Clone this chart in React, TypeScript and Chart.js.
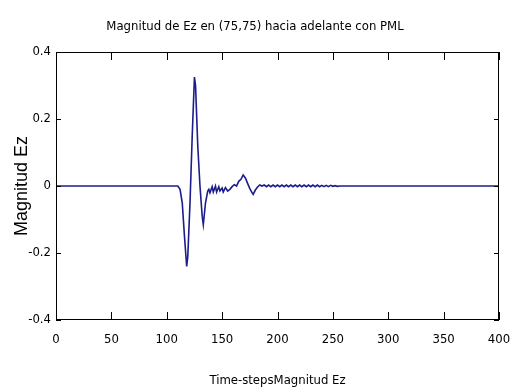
import React, { useEffect, useRef } from "react";
import { Chart, registerables } from "chart.js";

Chart.register(...registerables);

const chartTitle = "Magnitud de Ez en (75,75) hacia adelante con PML";
const xTitle = "Time-stepsMagnitud Ez";
const yTitle = "Magnitud Ez";

const timeSteps = [
  0, 110, 112, 114, 116, 118, 119, 121, 123, 125, 126, 128, 130, 132, 133, 135,
  137, 138, 139, 141, 142, 144, 145, 147, 148, 150, 151, 153, 155, 157, 159, 161,
  163, 165, 167, 169, 171, 173, 175, 177, 178, 180, 182, 184, 186,
  188, 190, 192, 194, 196, 198, 200, 202, 204, 206, 208, 210, 212, 214, 216, 218,
  220, 222, 224, 226, 228, 230, 232, 234, 236, 238, 240, 242, 244, 246, 248, 250,
  252, 254, 256, 400,
];

const magnitudEz = [
  0, 0, -0.01, -0.05, -0.15, -0.24, -0.21, -0.05, 0.15, 0.325, 0.3, 0.12, 0.0, -0.09, -0.115, -0.05,
  -0.015, -0.01, -0.02, -0.002, -0.018, 0.0, -0.018, -0.002, -0.015, -0.006, -0.018, -0.005, -0.015, -0.01, -0.002, 0.004,
  0.0, 0.014, 0.02, 0.033, 0.024, 0.008, -0.008, -0.02, -0.025, -0.012, -0.003, 0.003, 0.0,
  0.003, -0.002, 0.003, -0.002, 0.003, -0.002, 0.003, -0.002, 0.003, -0.002, 0.003, -0.002, 0.003, -0.002, 0.003,
  -0.002, 0.003, -0.002, 0.003, -0.002, 0.003, -0.002, 0.003, -0.002, 0.003, -0.002, 0.002, -0.002, 0.002, -0.002, 0.002,
  -0.001, 0.001, -0.001, 0, 0,
];

const xTicks = [0, 50, 100, 150, 200, 250, 300, 350, 400];
const yTicks = [-0.4, -0.2, 0, 0.2, 0.4];

const narrow = "'DejaVu Sans Condensed', 'Liberation Sans', sans-serif";

const boxPlugin = {
  id: "matlabBox",
  afterDraw(chart: any) {
    const { ctx, chartArea, scales } = chart;
    const { left, right, top, bottom } = chartArea;
    ctx.save();
    ctx.strokeStyle = "#000";
    ctx.lineWidth = 1;
    ctx.strokeRect(left + 0.5, top + 0.5, right - left - 1, bottom - top - 1);
    ctx.beginPath();
    for (const v of xTicks) {
      const x = Math.round(scales.x.getPixelForValue(v)) + 0.5;
      ctx.moveTo(x, bottom);
      ctx.lineTo(x, bottom - 8);
      ctx.moveTo(x, top);
      ctx.lineTo(x, top + 8);
    }
    for (const v of yTicks) {
      const y = Math.round(scales.y.getPixelForValue(v)) + 0.5;
      ctx.moveTo(left, y);
      ctx.lineTo(left + 5, y);
      ctx.moveTo(right, y);
      ctx.lineTo(right - 5, y);
    }
    ctx.stroke();
    ctx.restore();
  },
};

export default function App() {
  const ref = useRef<HTMLCanvasElement | null>(null);
  useEffect(() => {
    document.body.style.margin = "0";
    const canvas = ref.current;
    if (!canvas) return;
    const points = timeSteps.map((t, i) => ({ x: t, y: magnitudEz[i] }));
    const chart = new Chart(canvas, {
      type: "line",
      data: {
        datasets: [
          {
            data: points,
            borderColor: "#1c1c8c",
            borderWidth: 1.6,
            pointRadius: 0,
            tension: 0,
            fill: false,
          },
        ],
      },
      options: {
        animation: false,
        responsive: false,
        maintainAspectRatio: false,
        layout: { padding: { left: 0, right: 0, top: 0, bottom: 0 } },
        plugins: {
          legend: { display: false },
          tooltip: { enabled: false },
          title: {
            display: true,
            text: chartTitle,
            color: "#000",
            font: { family: narrow, size: 13, weight: "normal", lineHeight: 1.2 },
            padding: { top: 19, bottom: 17.4 },
          },
        },
        scales: {
          x: {
            type: "linear",
            min: 0,
            max: 400,
            afterFit: (s: any) => {
              s.height = 71;
              s.paddingLeft = 0;
              s.paddingRight = 11;
            },
            afterBuildTicks: (s: any) => {
              s.ticks = xTicks.map((v) => ({ value: v }));
            },
            grid: { display: false, drawTicks: false },
            border: { display: false },
            ticks: {
              color: "#000",
              padding: 12,
              maxRotation: 0,
              autoSkip: false,
              font: { family: narrow, size: 13 },
            },
            title: {
              display: true,
              text: xTitle,
              color: "#000",
              font: { family: narrow, size: 13, lineHeight: 1.2 },
              padding: { top: 0, bottom: 3 },
            },
          },
          y: {
            type: "linear",
            min: -0.4,
            max: 0.4,
            afterFit: (s: any) => {
              s.width = 56;
            },
            afterBuildTicks: (s: any) => {
              s.ticks = yTicks.map((v) => ({ value: v }));
            },
            grid: { display: false, drawTicks: false },
            border: { display: false },
            ticks: {
              color: "#000",
              padding: 5,
              autoSkip: false,
              font: { family: narrow, size: 13 },
            },
            title: {
              display: true,
              text: yTitle,
              color: "#000",
              font: { family: "'Liberation Sans', Arial, sans-serif", size: 18, lineHeight: 1.2 },
              padding: { top: 11, bottom: 0 },
            },
          },
        },
      },
      plugins: [boxPlugin],
    });
    return () => chart.destroy();
  }, []);
  return <canvas ref={ref} width={510} height={391} style={{ display: "block" }} />;
}
